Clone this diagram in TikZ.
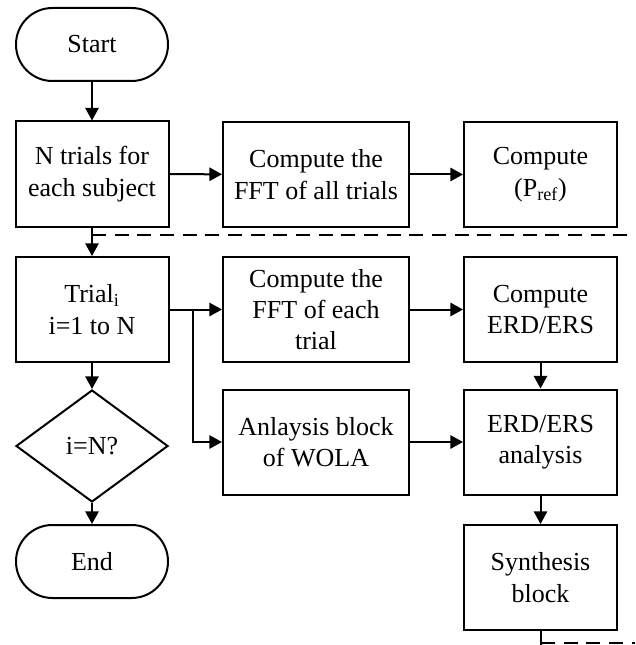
\documentclass[tikz,border=0pt]{standalone}
\usepackage{fontspec}
\setmainfont{Liberation Serif}
\usetikzlibrary{arrows.meta,shapes.geometric}
\begin{document}
\begin{tikzpicture}[x=0.75pt,y=-0.75pt,
  every node/.style={font=\fontsize{19.5}{23.5}\selectfont, align=center, inner sep=0pt},
  proc/.style={draw, line width=1.5pt, minimum height=78.75pt},
  narrow/.style={proc, minimum width=114.75pt},
  wide/.style={proc, minimum width=139.5pt},
  term/.style={draw, line width=1.5pt, rounded corners=27.3pt, minimum width=114pt, minimum height=54.75pt},
  decision/.style={draw, line width=1.5pt, diamond, minimum width=114pt, minimum height=84pt},
  flow/.style={line width=1.5pt, -{Triangle[length=9.5pt,width=10pt]}},
  link/.style={line width=1.5pt},
  sep/.style={line width=1.5pt, dash pattern=on 10.5pt off 6.5pt}
]
\useasboundingbox (0,0) rectangle (635,645);

% left column
\node[term]     (start)  at (92,44.5)   {Start};
\node[narrow]   (n1)     at (92,174)    {N trials for\\each subject};
\node[narrow]   (trial)  at (92,309.5)  {Trial\textsubscript{i}\\i=1 to N};
\node[decision] (dec)    at (92,446)    {i=N?};
\node[term]     (stop)   at (92,561.5)  {End};

% middle column
\node[wide]     (fftall)  at (316,174.5) {Compute the\\FFT of all trials};
\node[wide]     (ffteach) at (316,309.5) {Compute the\\FFT of each\\trial};
\node[wide]     (wola)    at (316,442)   {Anlaysis block\\of WOLA};

% right column
\node[narrow]   (pref)   at (540.5,174.5) {Compute\\(P\textsubscript{ref})};
\node[narrow]   (erd)    at (540.5,309.5) {Compute\\ERD/ERS};
\node[narrow]   (erdan)  at (540.5,442)   {ERD/ERS\\analysis};
\node[narrow]   (synth)  at (540.5,577.5) {Synthesis\\block};

% helper points
\coordinate (dj) at (92,235);
\coordinate (dR) at (635,235);
\coordinate (br) at (193,309.5);
\coordinate (sb) at (541,645);
\coordinate (bL) at (541,643);
\coordinate (bR) at (635,643);

% connectors
\draw[flow] (start) -- (n1);
\draw[flow] (n1) -- (fftall);
\draw[flow] (fftall) -- (pref);
\draw[flow] (n1) -- (trial);
\draw[sep]  (dj) -- (dR);
\draw[flow] (trial) -- (ffteach);
\draw[flow] (br) |- (wola.west);
\draw[flow] (ffteach) -- (erd);
\draw[flow] (erd) -- (erdan);
\draw[flow] (wola) -- (erdan);
\draw[flow] (erdan) -- (synth);
\draw[link] (synth.south) -- (synth.south |- sb);
\draw[sep]  (bL) -- (bR);
\draw[flow] (trial) -- (dec);
\draw[flow] (dec) -- (stop);
\end{tikzpicture}
\end{document}
